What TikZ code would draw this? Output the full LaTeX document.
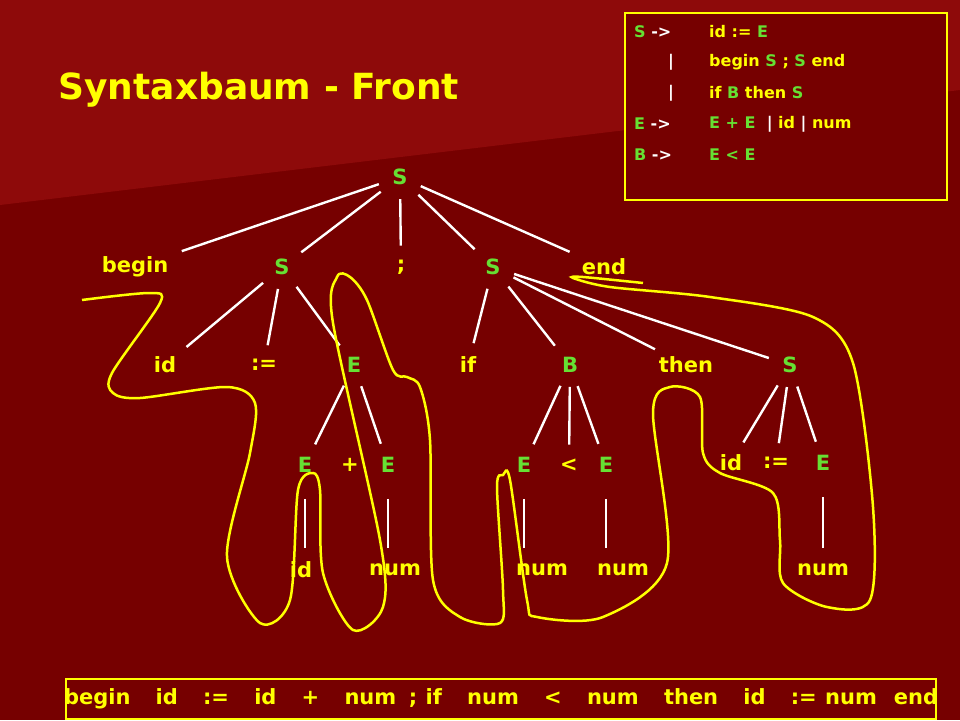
\documentclass[tikz,border=0pt]{standalone}
\usepackage{fontspec}
\setmainfont{DejaVu Sans}
\definecolor{bgd}{HTML}{760000}
\definecolor{bgl}{HTML}{8E0A0A}
\definecolor{yl}{HTML}{FFFF00}
\definecolor{gr}{HTML}{66E033}
\newcommand{\G}[1]{{\color{gr}#1}}
\newcommand{\W}[1]{{\color{white}#1}}
\begin{document}
\begin{tikzpicture}[x=1pt,y=-1pt,
  t/.style={font=\fontsize{21}{24}\bfseries\selectfont,text=yl,inner sep=2pt},
  n/.style={t,text=gr},
  e/.style={draw=white,line width=2.4pt,shorten <=12pt,shorten >=12pt},
  gt/.style={font=\fontsize{16}{18}\bfseries\selectfont,text=yl,anchor=west,inner sep=0pt}]
\useasboundingbox (0,0) rectangle (960,720);
\fill[bgd] (0,0) rectangle (960,720);
\fill[bgl] (0,0) -- (960,0) -- (960,90) -- (0,205) -- cycle;
\node[anchor=west,font=\fontsize{36}{40}\bfseries\selectfont,text=yl] (title) at (55,90) {Syntaxbaum - Front};
% grammar
\node[draw=yl,line width=2pt,minimum width=322pt,minimum height=187pt,anchor=north west,fill=bgd] (gb) at (624,12) {};
\node[gt] (g1a) at (634,32) {\G{S} \W{->}};
\node[gt] (g1b) at (709,32) {id := \G{E}};
\node[gt] (g2a) at (668,62) {\W{|}};
\node[gt] (g2b) at (709,62) {begin \G{S} ; \G{S} end};
\node[gt] (g3a) at (668,93) {\W{|}};
\node[gt] (g3b) at (709,93) {if \G{B} then \G{S}};
\node[gt] (g4a) at (634,124) {\G{E} \W{->}};
\node[gt] (g4b) at (709,124) {\G{E + E} \ \W{|} id \W{|} num};
\node[gt] (g5a) at (634,155) {\G{B} \W{->}};
\node[gt] (g5b) at (709,155) {\G{E < E}};
% tree
\node[n] (r) at (400,177) {S};
\node[t] (begin) at (135,267) {begin};
\node[n] (s1) at (282,267) {S};
\node[t] (semi) at (401,267) {;};
\node[n] (s2) at (493,267) {S};
\node[t] (end) at (604,267) {end};
\node[t] (id1) at (165,365) {id};
\node[t] (as1) at (264,365) {:=};
\node[n] (e1) at (354,365) {E};
\node[t] (if) at (468,365) {if};
\node[n] (b) at (570,365) {B};
\node[t] (then) at (686,365) {then};
\node[n] (s3) at (790,365) {S};
\node[n] (e2) at (305,465) {E};
\node[t] (plus) at (350,465) {+};
\node[n] (e3) at (388,465) {E};
\node[n] (e4) at (524,465) {E};
\node[t] (lt) at (569,465) {<};
\node[n] (e5) at (606,465) {E};
\node[t] (id2) at (731,463) {id};
\node[t] (as2) at (776,463) {:=};
\node[n] (e6) at (823,463) {E};
\node[t] (id3) at (301,570) {id};
\node[t] (n1) at (395,570) {num};
\node[t] (n2) at (542,570) {num};
\node[t] (n3) at (623,570) {num};
\node[t] (n4) at (823,570) {num};
\foreach \a/\b in {r/begin,r/s1,r/semi,r/s2,r/end,s1/id1,s1/as1,s1/e1,s2/if,s2/b,s2/then,s2/s3,e1/e2,e1/e3,b/e4,b/lt,b/e5,s3/id2,s3/as2,s3/e6}
  \draw[e] (\a) -- (\b);
\foreach \a/\b in {e2/id3,e3/n1,e4/n2,e5/n3,e6/n4}
  \draw[e,shorten <=24pt,shorten >=22pt] (\a) -- (\a |- \b);
% yellow frontier curve
\draw[yl,line width=2.5pt] plot[smooth,tension=0.5] coordinates{
(82,300) (150,293) (160,303) (112,373) (113,393) (140,398) (227,387) (255,403) (250,453) (227,557) (260,623) (290,600) (298,490) (313,473) (320,490) (323,573) (353,630) (383,607) (380,540) (333,323) (337,277) (350,277) (367,300) (393,370) (407,377) (420,387) (430,440) (433,580) (460,617) (500,623) (503,590) (497,487) (503,475) (510,480) (527,600) (537,617) (603,617) (667,563) (653,413) (670,387) (700,397) (703,453) (720,473) (773,493) (780,540) (783,583) (827,607) (870,600) (873,507) (853,363) (813,317) (710,297) (610,287) (573,278) (583,277) (643,283)};
% bottom sentence
\node[draw=yl,line width=2pt,minimum width=870pt,minimum height=40pt,anchor=north west,inner sep=0pt] (bot) at (65,678) {};
\node[t] (sent) at (bot.center) {begin\hspace{1.2em}id\hspace{1.2em}:=\hspace{1.2em}id\hspace{1.2em}+\hspace{1.2em}num\hspace{0.6em};\hspace{0.4em}if\hspace{1.2em}num\hspace{1.2em}<\hspace{1.2em}num\hspace{1.2em}then\hspace{1.2em}id\hspace{1.2em}:=\hspace{0.4em}num\hspace{0.8em}end};
\end{tikzpicture}
\end{document}
